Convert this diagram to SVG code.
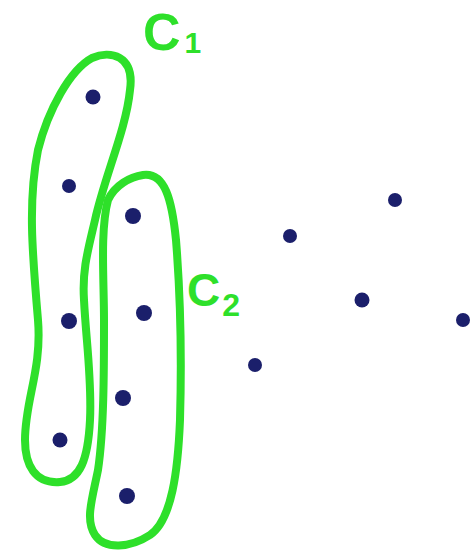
<svg xmlns="http://www.w3.org/2000/svg" width="473" height="556" viewBox="0 0 473 556">
<style>
.loop{fill:none;stroke:#2ee02a;stroke-width:8;stroke-linejoin:round;stroke-linecap:round}
.pt{fill:#1b1f6b}
.lbl{fill:#2ee02a;font-family:"Liberation Sans",Arial,sans-serif;font-weight:bold}
</style>
<rect width="473" height="556" fill="#ffffff"/>
<g id="cluster-c1">
<path class="loop" d="M 92 58 C 110 50, 135 55, 130 90 C 126 130, 105 175, 95 220 C 88 250, 82 270, 84 300 C 86 340, 92 380, 90 420 C 88 460, 80 480, 60 482 C 35 484, 25 465, 25 440 C 25 400, 42 370, 38 320 C 32 250, 28 200, 38 150 C 48 110, 70 70, 92 58 Z"/>
<text class="lbl" x="143" y="50" font-size="52">C<tspan font-size="30" dx="4" dy="3">1</tspan></text>
</g>
<g id="cluster-c2">
<path class="loop" d="M 143 175 C 165 172, 172 200, 176 240 C 180 290, 182 350, 180 420 C 178 470, 172 520, 150 535 C 130 548, 105 550, 95 535 C 85 520, 92 500, 98 470 C 104 430, 104 370, 104 320 C 104 280, 100 230, 108 200 C 115 185, 130 177, 143 175 Z"/>
<text class="lbl" x="187" y="306" font-size="46">C<tspan font-size="32" dx="2" dy="10">2</tspan></text>
</g>
<g id="points">
<circle class="pt" cx="93" cy="97" r="7.5"/>
<circle class="pt" cx="69" cy="186" r="7"/>
<circle class="pt" cx="133" cy="216" r="8"/>
<circle class="pt" cx="290" cy="236" r="7"/>
<circle class="pt" cx="395" cy="200" r="7"/>
<circle class="pt" cx="69" cy="321" r="8"/>
<circle class="pt" cx="144" cy="313" r="8"/>
<circle class="pt" cx="362" cy="300" r="7.5"/>
<circle class="pt" cx="463" cy="320" r="7"/>
<circle class="pt" cx="255" cy="365" r="7"/>
<circle class="pt" cx="123" cy="398" r="8"/>
<circle class="pt" cx="60" cy="440" r="7.5"/>
<circle class="pt" cx="127" cy="496" r="8"/>
</g>
</svg>
